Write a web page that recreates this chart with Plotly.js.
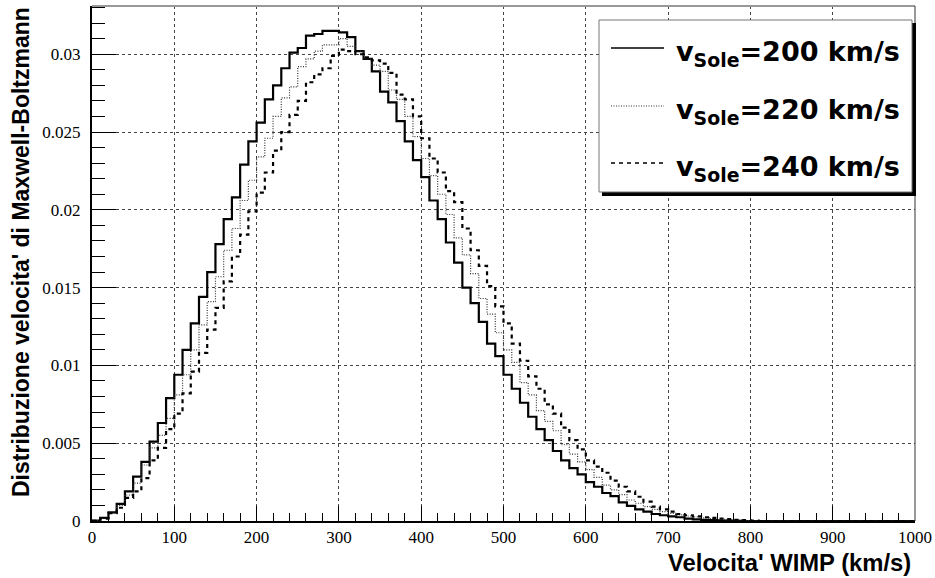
<!DOCTYPE html>
<html>
<head>
<meta charset="utf-8">
<script src="https://cdn.plot.ly/plotly-3.0.1.min.js"></script>
<style>
html,body{margin:0;padding:0;background:#fff;}
#chart{width:935px;height:578px;}
</style>
</head>
<body>
<div id="chart"></div>
<script>
// Bin width of the histograms (km/s)
const binWidth = 10;

// Series: Maxwell-Boltzmann velocity distribution per 10 km/s bin (0..1000 km/s)
const v200 = [
 0.00003,0.0002,0.00056,0.0011,0.0019,0.00285,0.0038,0.0051,0.0063,0.0079,
 0.0094,0.0110,0.0127,0.0144,0.0160,0.0178,0.0194,0.0208,0.0229,0.0244,
 0.0256,0.0271,0.0280,0.0291,0.0301,0.0304,0.0312,0.0313,0.0315,0.0315,
 0.0314,0.0311,0.0302,0.0297,0.0289,0.0276,0.0269,0.0257,0.0244,0.0232,
 0.0221,0.0206,0.0194,0.0179,0.0166,0.0150,0.0140,0.0128,0.0114,0.0106,
 0.0094,0.0085,0.0076,0.0067,0.0059,0.0052,0.0045,0.0039,0.0034,0.0030,
 0.0025,0.0022,0.0018,0.0016,0.0012,0.00097,0.00075,0.0006,0.00045,0.00037,
 0.0003,0.00024,0.00015,0.0001,0.00007,0.00005,0.00003,0.00002,0.00001,0,
 0,0,0,0,0,0,0,0,0,0,
 0,0,0,0,0,0,0,0,0,0
];
const v220 = [
 0.00002,0.00017,0.0005,0.0010,0.00167,0.00243,0.0036,0.0047,0.0055,0.0066,
 0.0081,0.0094,0.0110,0.0126,0.0141,0.0157,0.0174,0.0188,0.0206,0.0219,
 0.0234,0.0246,0.0260,0.0272,0.0279,0.0292,0.0297,0.0302,0.0306,0.0306,
 0.0310,0.0305,0.0302,0.0297,0.0293,0.0289,0.0277,0.0271,0.0260,0.0247,
 0.0233,0.0222,0.0210,0.0197,0.0182,0.0171,0.0159,0.0143,0.0133,0.0121,
 0.0110,0.0102,0.0089,0.0081,0.0071,0.0064,0.0058,0.0049,0.0043,0.0038,
 0.0033,0.0028,0.0023,0.0020,0.0017,0.00135,0.00114,0.00092,0.00075,0.0006,
 0.00049,0.00039,0.00032,0.00026,0.0002,0.00015,0.0001,0.00007,0.00005,0.00003,
 0.00002,0,0,0,0,0,0,0,0,0,
 0,0,0,0,0,0,0,0,0,0
];
const v240 = [
 0.00001,0.00015,0.0005,0.00085,0.00148,0.0019,0.00275,0.0039,0.0047,0.0059,
 0.0069,0.0082,0.0096,0.0108,0.0123,0.0137,0.0154,0.0170,0.0184,0.0199,
 0.0211,0.0224,0.0238,0.0250,0.0261,0.0270,0.0282,0.0287,0.0291,0.0299,
 0.0303,0.0302,0.0300,0.0298,0.0296,0.0294,0.0288,0.0274,0.0271,0.0260,
 0.0246,0.0233,0.0224,0.0212,0.0205,0.0188,0.0174,0.0164,0.0151,0.0138,
 0.0127,0.0114,0.0103,0.0093,0.0085,0.0075,0.0069,0.0060,0.0052,0.0046,
 0.0039,0.0035,0.0031,0.0026,0.0022,0.0019,0.00156,0.00124,0.00092,0.00075,
 0.0006,0.00045,0.00037,0.0003,0.00024,0.0002,0.00015,0.00012,0.00008,0.00005,
 0.00003,0,0,0,0,0,0,0,0,0,
 0,0,0,0,0,0,0,0,0,0
];

const seriesNames = ['v<sub>Sole</sub>=200 km/s','v<sub>Sole</sub>=220 km/s','v<sub>Sole</sub>=240 km/s'];
const xTickVals = [0,100,200,300,400,500,600,700,800,900,1000];
const xTickText = ['0','100','200','300','400','500','600','700','800','900','1000'];
const yTickVals = [0,0.005,0.01,0.015,0.02,0.025,0.03];
const yTickText = ['0','0.005','0.01','0.015','0.02','0.025','0.03'];
const xTitle = "Velocita' WIMP (km/s)";
const yTitle = "Distribuzione velocita' di Maxwell-Boltzmann";

const serif = '"Liberation Serif", "Times New Roman", Times, serif';
const sans = '"Liberation Sans", Arial, Helvetica, sans-serif';
const wideSans = '"DejaVu Sans", "Liberation Sans", Arial, sans-serif';

function steps(vals){
  const x = vals.map((_, i) => i * binWidth);
  x.push(vals.length * binWidth);
  const y = vals.concat([vals[vals.length - 1]]);
  return {x, y};
}

const styles = [
  {color:'#000', width:2.2, dash:'solid'},
  {color:'#333', width:1.2, dash:'1px,1.5px'},
  {color:'#000', width:2.2, dash:'4px,4px'}
];
const data = [v200, v220, v240].map((vals, i) => {
  const s = steps(vals);
  return {
    type:'scatter', mode:'lines', x:s.x, y:s.y,
    line:{shape:'hv', color:styles[i].color, width:styles[i].width, dash:styles[i].dash},
    name:seriesNames[i], hoverinfo:'skip', showlegend:false
  };
});

const W = 935, H = 578, L = 92, R = 20, T = 6, B = 57;
const pw = W - L - R, ph = H - T - B;
const px = v => (v - L) / pw;
const py = v => (H - B - v) / ph;

// Hand-drawn ROOT-style legend box (with drop shadow)
const legRows = [48, 106, 163];
const shapes = [
  {type:'line', xref:'paper', yref:'paper', x0:0, x1:1, y0:1, y1:1, line:{color:'#999', width:2}},
  {type:'line', xref:'paper', yref:'paper', x0:1, x1:1, y0:0, y1:1, line:{color:'#333', width:1}},
  {type:'rect', xref:'paper', yref:'paper', x0:px(602), x1:px(916), y0:py(196), y1:py(23), fillcolor:'#000', line:{width:0}, layer:'above'},
  {type:'rect', xref:'paper', yref:'paper', x0:px(599), x1:px(912), y0:py(192), y1:py(20), fillcolor:'#fff', line:{color:'#777', width:1}, layer:'above'}
];
legRows.forEach((r, i) => {
  shapes.push({type:'line', xref:'paper', yref:'paper', x0:px(611), x1:px(664), y0:py(r), y1:py(r),
    line:{color:styles[i].color, width:i === 1 ? 1.2 : 1.6, dash:styles[i].dash}, layer:'above'});
});

const annotations = [
  {text:'<b>'+xTitle+'</b>', xref:'paper', yref:'paper', x:px(913), y:py(562), xanchor:'right', yanchor:'middle', showarrow:false,
   font:{family:sans, size:23.8, color:'#000'}},
  {text:'<b>'+yTitle+'</b>', xref:'paper', yref:'paper', x:px(21), y:py(5), xanchor:'center', yanchor:'top', textangle:-90, showarrow:false,
   font:{family:sans, size:23, color:'#000'}}
];
legRows.forEach((r, i) => {
  annotations.push({text:'<b>'+seriesNames[i]+'</b>', xref:'paper', yref:'paper', x:px(674), y:py(r+5), xanchor:'left', yanchor:'middle',
    showarrow:false, font:{family:wideSans, size:27, color:'#000'}});
});

const layout = {
  width:W, height:H,
  margin:{l:L, r:R, t:T, b:B},
  paper_bgcolor:'#fff', plot_bgcolor:'#fff',
  showlegend:false,
  font:{family:serif, color:'#000', size:17},
  xaxis:{
    range:[0,1000], tickvals:xTickVals, ticktext:xTickText,
    ticks:'inside', ticklen:15, tickwidth:1, tickcolor:'#000',
    minor:{dtick:20, ticks:'inside', ticklen:8, tickwidth:1, tickcolor:'#000', showgrid:false},
    showgrid:true, gridcolor:'#444', gridwidth:1, griddash:'dot',
    showline:true, linecolor:'#000', linewidth:2, zeroline:false,
    tickfont:{family:serif, size:17, color:'#000'},
    fixedrange:true
  },
  yaxis:{
    range:[0,0.0331], tickvals:yTickVals, ticktext:yTickText,
    ticks:'inside', ticklen:24, tickwidth:1, tickcolor:'#000',
    minor:{dtick:0.001, tick0:0, ticks:'inside', ticklen:13, tickwidth:1, tickcolor:'#000', showgrid:false},
    showgrid:true, gridcolor:'#444', gridwidth:1, griddash:'dot',
    showline:true, linecolor:'#000', linewidth:2, zeroline:false,
    tickfont:{family:serif, size:17, color:'#000'},
    ticklabelstandoff:6,
    fixedrange:true
  },
  shapes:shapes,
  annotations:annotations
};

Plotly.newPlot('chart', data, layout, {staticPlot:true, displayModeBar:false});
</script>
</body>
</html>
